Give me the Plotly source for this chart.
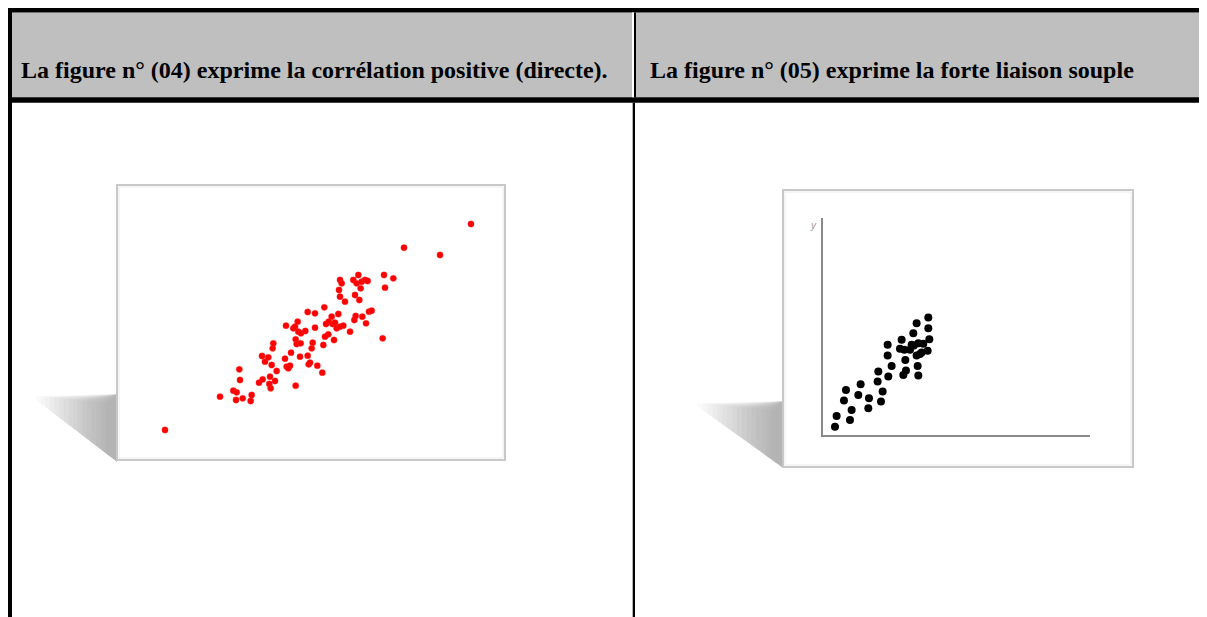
import plotly.graph_objects as go

# page offset (default body margin) and figure size
OFF = 8
FW, FH = 1199, 609

# ---- Data: figure 04 (positive correlation, red points) ----
x_pos = [165, 330, 370, 380, 378, 398, 422, 425, 388, 390,
         447, 458, 478, 482, 495, 480, 500, 456, 465, 475, 488, 490, 485,
         525, 530, 540, 543, 557, 535,
         528, 550, 555, 563, 565, 573, 586, 557, 560, 572, 570, 593, 596, 600, 605, 608, 622, 637, 640,
         593, 615, 615, 643, 648, 656, 665, 668, 675, 680, 685, 690, 700, 655, 645, 672, 720,
         690, 695, 687, 690, 705, 735, 748, 730, 740, 745, 755, 765, 773, 752, 733, 737, 757, 768, 777, 785,
         822, 850, 825, 818, 882, 990, 1083]
y_pos = [90, 190, 208, 203, 180, 185, 177, 195, 272, 240,
         232, 242, 228, 215, 237, 250, 267, 312, 295, 308, 335, 350, 285,
         304, 280, 283, 322, 223, 275,
         403, 395, 400, 415, 385, 380, 387, 362, 348, 350, 310, 313, 287, 292, 335, 352, 283, 262, 345,
         444, 440, 397, 458, 408, 415, 430, 408, 412, 395, 438, 400, 403, 377, 370, 360, 385,
         540, 530, 510, 490, 475, 495, 480, 540, 530, 555, 535, 540, 537, 515, 420, 432, 430, 410, 445, 448,
         555, 545, 517, 365, 637, 615, 708]

# ---- Data: figure 05 (strong linear link, black points) ----
x_lin = [35, 40, 80, 85, 62, 68, 112, 105, 137, 135, 173, 178, 163, 165, 195, 205, 193, 193,
         230, 235, 240, 243, 246, 248, 280, 270, 272, 285, 290, 280, 283, 285, 315, 315, 318, 313,
         260, 265, 300, 295]
y_lin = [25, 57, 45, 75, 103, 135, 152, 120, 110, 80, 100, 130, 160, 190, 175, 207, 238, 270,
         258, 285, 180, 255, 225, 193, 335, 305, 268, 275, 243, 238, 207, 178, 352, 320, 287, 252,
         255, 270, 273, 247]

headers = ["La figure n° (04) exprime la corrélation positive (directe).",
           "La figure n° (05) exprime la forte liaison souple"]


def px(x):
    return (x - OFF) / FW


def py(y):
    return 1 - (y - OFF) / FH


shapes = []


def rect(x0, y0, x1, y1, fill, line=None, lw=0, layer="below"):
    shapes.append(dict(type="rect", xref="paper", yref="paper",
                       x0=px(x0), x1=px(x1), y0=py(y1), y1=py(y0),
                       fillcolor=fill, line=dict(color=line or fill, width=lw),
                       layer=layer))


def path(points, fill):
    d = "M " + " L ".join(f"{px(a):.5f},{py(b):.5f}" for a, b in points) + " Z"
    shapes.append(dict(type="path", xref="paper", yref="paper", path=d,
                       fillcolor=fill, line=dict(width=0), layer="below"))


# header background
rect(11, 12.5, 1210, 97.5, "#bfbfbf")
# table borders
rect(7, 7.5, 1210, 12.5, "#000000")
rect(7, 7.5, 12, 625, "#000000")
rect(7, 97.3, 1210, 102.7, "#000000")
rect(632, 12.5, 634, 97.3, "#ffffff")
rect(634, 12.5, 636, 97.3, "#000000")
rect(632.7, 102.7, 635, 625, "#000000")


# shadows (layered translucent wedges)
def shadow(xr, ytop, ybot, x_start, n=16, a=0.018):
    slope = (ybot - ytop - 5) / (xr - x_start)
    for k in range(n):
        x0 = x_start + k * (xr - x_start) / (n + 1.5)
        yd = ytop + 5 + (x0 - x_start) * slope
        path([(x0, ytop + 1 + k * 0.5), (xr, ytop - 1), (xr, ybot), (x0, yd)],
             f"rgba(0,0,0,{a})")


shadow(117, 395, 462, 36)
shadow(783, 402, 468, 698)

# picture frames
rect(117, 185, 505, 460, "#ffffff", "#c8c8c8", 2)
rect(119, 187, 503, 458, "rgba(0,0,0,0)", "#ececec", 1)
rect(783, 190, 1133, 467, "#ffffff", "#c8c8c8", 2)
rect(785, 192, 1131, 465, "rgba(0,0,0,0)", "#ececec", 1)

fig = go.Figure()
fig.add_trace(go.Scatter(x=x_pos, y=y_pos, mode="markers", xaxis="x", yaxis="y",
                         marker=dict(color="#ff0000", size=6.3,
                                     line=dict(color="rgba(255,60,60,0.5)", width=0.6)),
                         showlegend=False, hoverinfo="skip"))
fig.add_trace(go.Scatter(x=x_lin, y=y_lin, mode="markers", xaxis="x2", yaxis="y2",
                         marker=dict(color="#000000", size=8),
                         showlegend=False, hoverinfo="skip"))

hfont = dict(family="Liberation Serif, Times New Roman, serif", size=24, color="#000")
annotations = [
    dict(text="<b>" + headers[0] + "</b>", x=px(19), y=py(70), xref="paper", yref="paper",
         xanchor="left", yanchor="middle", showarrow=False, font=hfont),
    dict(text="<b>" + headers[1] + "</b>", x=px(648), y=py(70), xref="paper", yref="paper",
         xanchor="left", yanchor="middle", showarrow=False, font=hfont),
    dict(text="<i>y</i>", x=px(813), y=py(225), xref="paper", yref="paper",
         xanchor="center", yanchor="middle", showarrow=False,
         font=dict(family="Liberation Sans, Arial, sans-serif", size=10, color="#9a9a9a")),
]

hidden = dict(showgrid=False, zeroline=False, showticklabels=False, ticks="")

fig.update_layout(
    width=FW, height=FH, margin=dict(l=0, r=0, t=0, b=0),
    paper_bgcolor="#ffffff", plot_bgcolor="rgba(0,0,0,0)",
    shapes=shapes, annotations=annotations,
    xaxis=dict(domain=[px(117), px(505)], range=[21, 1185], **hidden),
    yaxis=dict(domain=[py(460), py(185)], range=[0, 825], **hidden),
    xaxis2=dict(domain=[px(823.3), px(1090)], range=[0, 800], anchor="y2",
                showline=True, linecolor="#8a8a8a", linewidth=2, **hidden),
    yaxis2=dict(domain=[py(435), py(218)], range=[0, 650], anchor="x2",
                showline=True, linecolor="#8a8a8a", linewidth=2, **hidden),
)

fig.write_html("out.html")
